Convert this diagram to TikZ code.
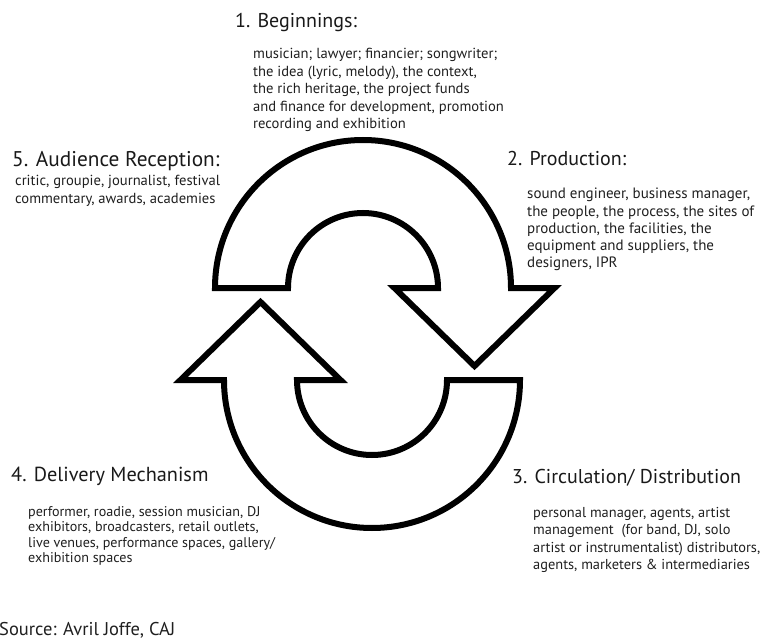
\documentclass[tikz,border=0pt]{standalone}
\usepackage{fontspec}
\setmainfont{PT Sans}
\usetikzlibrary{positioning}

\begin{document}
\begin{tikzpicture}[x=1pt, y=-1pt,
  heading/.style={anchor=west, inner sep=0pt, text=black!90, font=\fontsize{20}{22}\selectfont},
  details/.style={anchor=north west, inner sep=0pt, align=left, text=black!88, font=\fontsize{14.6}{17.5}\selectfont},
  cyclearrow/.style={draw=black, line width=6pt, fill=white, line join=miter}]
  \useasboundingbox (0,0) rectangle (764,642);

  % upper arrow, turning clockwise
  \begin{scope}[shift={(363,288)}]
    \draw[cyclearrow] (-148,0) arc[start angle=180, end angle=360, radius=148]
      -- (191.5,0) -- (111.5,78) -- (31.5,0) -- (75,0)
      arc[start angle=0, end angle=-180, radius=75] -- cycle;
  \end{scope}

  % lower arrow, the same shape turned round
  \begin{scope}[shift={(372,380)}, rotate=180]
    \draw[cyclearrow] (-148,0) arc[start angle=180, end angle=360, radius=148]
      -- (191.5,0) -- (111.5,78) -- (31.5,0) -- (75,0)
      arc[start angle=0, end angle=-180, radius=75] -- cycle;
  \end{scope}

  % the five stages
  \node[heading] (begin) at (235,23) {1. Beginnings:};
  \node[details] (beginlist) at (253,48) {musician; lawyer; financier; songwriter;\\
    the idea (lyric, melody), the context,\\
    the rich heritage, the project funds\\
    and finance for development, promotion\\
    recording and exhibition};

  \node[heading] (prod) at (507,158) {2. Production:};
  \node[details, font=\fontsize{15}{17.2}\selectfont] (prodlist) at (527,188) {sound engineer, business manager,\\
    the people, the process, the sites of\\
    production, the facilities, the\\
    equipment and suppliers, the\\
    designers, IPR};

  \node[heading] (circ) at (512,478) {3. Circulation/ Distribution};
  \node[details, font=\fontsize{14.4}{17.4}\selectfont] (circlist) at (533,507) {personal manager, agents, artist\\
    management\ \ (for band, DJ, solo\\
    artist or instrumentalist) distributors,\\
    agents, marketers \& intermediaries};

  \node[heading, font=\fontsize{20.3}{22}\selectfont] (deliv) at (11,476) {4. Delivery Mechanism};
  \node[details, font=\fontsize{14.1}{15.5}\selectfont] (delivlist) at (28,506) {performer, roadie, session musician, DJ\\
    exhibitors, broadcasters, retail outlets,\\
    live venues, performance spaces, gallery/\\
    exhibition spaces};

  \node[heading, font=\fontsize{21.3}{23}\selectfont] (aud) at (12,161) {5. Audience Reception:};
  \node[details] (audlist) at (15,175) {critic, groupie, journalist, festival\\
    commentary, awards, academies};

  \node[anchor=west, inner sep=0pt, text=black!88, font=\fontsize{18.5}{20}\selectfont] (source) at (-1,630) {Source: Avril Joffe, CAJ};
\end{tikzpicture}
\end{document}
